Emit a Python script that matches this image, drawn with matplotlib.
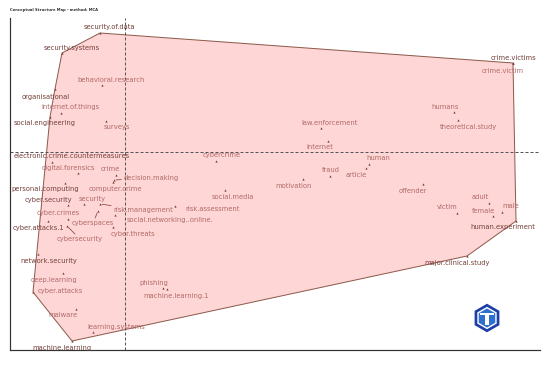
import numpy as np
import matplotlib
matplotlib.use("Agg")
import matplotlib.pyplot as plt
from matplotlib.patches import Polygon, RegularPolygon, Rectangle

# word coordinates on the two MCA dimensions
words = [
    "security.of.data", "security.systems", "behavioral.research", "organisational",
    "internet.of.things", "social.engineering", "surveys",
    "electronic.crime.countermeasures", "digital.forensics", "crime", "decision.making",
    "personal.computing", "computer.crime", "cyber.security", "security",
    "risk.management", "risk.assessment", "cyber.crimes", "cyberspaces",
    "social.networking..online.", "cyber.attacks.1", "cybersecurity", "cyber.threats",
    "network.security", "deep.learning", "cyber.attacks", "malware", "learning.systems",
    "machine.learning", "phishing", "machine.learning.1", "cybercrime", "social.media",
    "motivation", "fraud", "article", "human", "internet", "law.enforcement", "humans",
    "theoretical.study", "crime.victims", "crime.victim", "offender", "victim", "adult",
    "female", "male", "human.experiment", "major.clinical.study",
]
dim1 = [
    -0.25, -0.63, -0.23, -0.70, -0.64, -0.75, -0.19,
    -0.73, -0.47, -0.09, -0.11,
    -0.60, -0.12, -0.57, -0.41,
    -0.25, 0.50, -0.57, -0.27,
    -0.10, -0.77, -0.58, -0.12,
    -0.87, -0.62, -0.92, -0.49, -0.32,
    -0.53, 0.38, 0.42, 0.91, 1.00,
    1.78, 2.05, 2.41, 2.44, 2.03, 1.96, 3.29,
    3.33, 3.88, 3.88, 2.98, 3.32, 3.64,
    3.68, 3.77, 3.91, 3.42,
]
dim2 = [
    1.19, 0.99, 0.67, 0.63, 0.39, 0.35, 0.31,
    -0.10, -0.21, -0.23, -0.28,
    -0.31, -0.30, -0.53, -0.52,
    -0.52, -0.54, -0.67, -0.59,
    -0.63, -0.69, -0.74, -0.75,
    -1.02, -1.21, -1.40, -1.57, -1.80,
    -1.89, -1.36, -1.37, -0.09, -0.38,
    -0.27, -0.24, -0.16, -0.12, 0.11, 0.24, 0.40,
    0.32, 0.89, 0.89, -0.32, -0.61, -0.51,
    -0.64, -0.60, -0.69, -1.04,
]

# label placement (offset from the point, in pixels) and leader lines
label_off = [
    (9, 6), (10, 5), (9, 5), (-9, -8), (9, 6), (-5, -6), (11, -6),
    (20, 6), (-10, 5), (-6, 6), (37, 2),
    (-20, -6), (2, -7), (-20, 5), (8, 5),
    (43, -6), (38, -3), (-10, 6), (-5, -12),
    (55, -5), (-10, -7), (13, -13), (20, -7),
    (11, -7), (-9, -7), (27, 1), (-13, -6), (23, 5),
    (-10, -7), (-9, 5), (9, -7), (6, 6), (8, -7),
    (-9, -7), (1, 6), (-10, -7), (9, 6), (-8, -6), (9, 5), (-9, 5),
    (10, -7), (0, 5), (-10, -8), (-10, -7), (-10, 6), (-9, 6),
    (-10, 5), (9, 6), (-13, -6), (-10, -7),
]
leaders = {"decision.making", "risk.management", "cyberspaces", "cybersecurity"}
dark_labels = {"security.of.data", "security.systems", "organisational", "social.engineering",
               "electronic.crime.countermeasures", "personal.computing", "cyber.attacks.1",
               "machine.learning", "crime.victims", "human.experiment",
               "major.clinical.study", "network.security", "cyber.security"}

x = np.array(dim1)
y = np.array(dim2)


def convex_hull(px, py):
    pts = sorted(set(zip(px, py)))

    def cross(o, a, b):
        return (a[0] - o[0]) * (b[1] - o[1]) - (a[1] - o[1]) * (b[0] - o[0])

    lower, upper = [], []
    for p in pts:
        while len(lower) >= 2 and cross(lower[-2], lower[-1], p) <= 0:
            lower.pop()
        lower.append(p)
    for p in reversed(pts):
        while len(upper) >= 2 and cross(upper[-2], upper[-1], p) <= 0:
            upper.pop()
        upper.append(p)
    return np.array(lower[:-1] + upper[:-1])


W, H = 550, 367
fig = plt.figure(figsize=(W / 72, H / 72), dpi=72)
ax = fig.add_axes([10 / W, 17 / H, 530 / W, 332 / H])
ax.set_xlim(-1.15, 4.15)
ax.set_ylim(-1.98, 1.34)

hull = convex_hull(x, y)
ax.add_patch(Polygon(hull, closed=True, facecolor="#FFD6D6", edgecolor="#8E5A4C",
                     linewidth=1, zorder=1))

ax.axvline(0, color="#555555", lw=1, ls=(0, (3, 2)), zorder=2)
ax.axhline(0, color="#555555", lw=1, ls=(0, (3, 2)), zorder=2)

ax.scatter(x, y, marker="^", s=5, color="#7A3A30", linewidths=0, zorder=3)

for w, xi, yi, (dx, dy) in zip(words, x, y, label_off):
    props = None
    if w in leaders:
        props = dict(arrowstyle="-", color="#8E4A42", lw=0.8, shrinkA=0, shrinkB=2)
    ax.annotate(w, (xi, yi), xytext=(dx, dy), textcoords="offset points",
                ha="center", va="center", fontsize=6.8,
                color="#74403A" if w in dark_labels else "#B06A68",
                arrowprops=props, zorder=4)

for side in ["top", "right"]:
    ax.spines[side].set_visible(False)
for side in ["left", "bottom"]:
    ax.spines[side].set_color("#333333")
    ax.spines[side].set_linewidth(1.2)
ax.set_xticks([])
ax.set_yticks([])

fig.text(10 / W, 1 - 10 / H, "Conceptual Structure Map - method: MCA",
         fontsize=3.8, fontweight="bold", color="#333333", va="center")

# small logo, bottom right
lax = fig.add_axes([472 / W, (H - 334) / H, 30 / W, 32 / H])
lax.set_aspect("equal")
lax.set_xlim(-1.1, 1.1)
lax.set_ylim(-1.1, 1.1)
lax.axis("off")
lax.add_patch(RegularPolygon((0, 0), 6, radius=1.05, facecolor="#1E3FA8", edgecolor="none"))
lax.add_patch(RegularPolygon((0, 0), 6, radius=0.82, facecolor="white", edgecolor="none"))
lax.add_patch(RegularPolygon((0, 0), 6, radius=0.7, facecolor="#2F6FD0", edgecolor="none"))
lax.add_patch(Rectangle((-0.5, 0.2), 1.0, 0.15, facecolor="white", edgecolor="none"))
lax.add_patch(Rectangle((-0.15, -0.5), 0.3, 0.7, facecolor="white", edgecolor="none"))

fig.savefig("out.png", dpi=72)
